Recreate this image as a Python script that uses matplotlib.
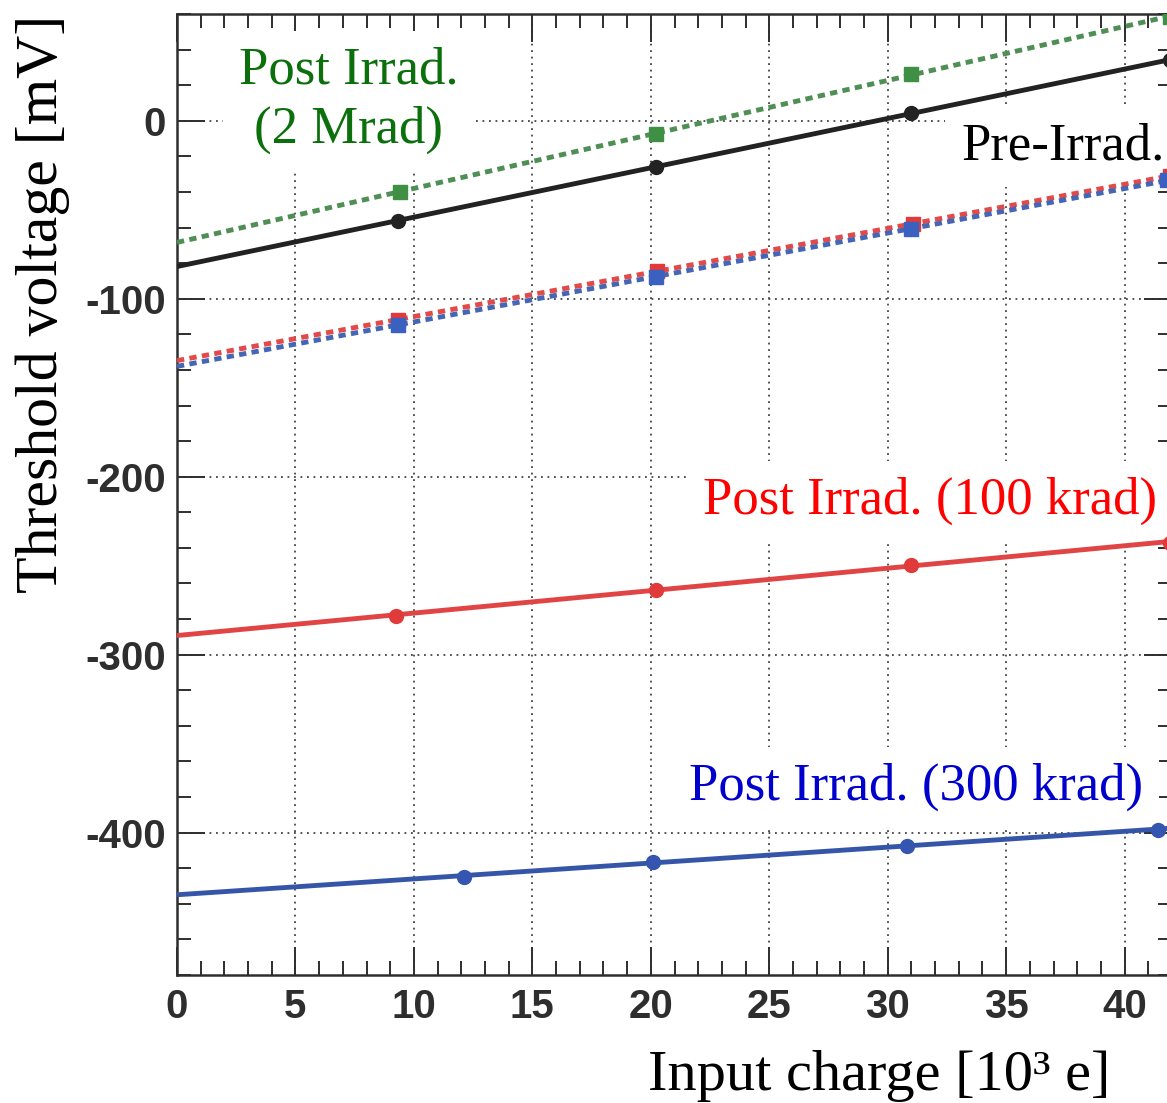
import numpy as np
import matplotlib
matplotlib.use("Agg")
import matplotlib.pyplot as plt
from matplotlib.ticker import MultipleLocator

# Threshold voltage [mV] versus injected charge [10^3 e]
pre_x = [9.34, 20.2, 31.0, 41.9]
pre_y = [-56.2, -25.8, 4.5, 34.0]

mrad2_x = [9.4, 20.2, 31.0, 41.9]
mrad2_y = [-39.9, -7.3, 26.4, 58.4]

k100_dot_x = [9.34, 20.25, 31.08, 41.9]
k100_dot_y = [-111.8, -84.3, -57.9, -31.0]

k300_dot_x = [9.34, 20.2, 31.0, 41.8]
k300_dot_y = [-114.6, -87.6, -60.7, -33.5]

k100_x = [9.26, 20.2, 31.0, 41.9]
k100_y = [-278.0, -263.5, -249.4, -237.0]

k300_x = [12.1, 20.1, 30.8, 41.4]
k300_y = [-424.7, -416.3, -407.3, -398.3]

x_range = (0, 42)
y_range = (-480, 60)

plt.rcParams['font.family'] = ['Liberation Sans', 'DejaVu Sans']
plt.rcParams['font.weight'] = 'bold'
plt.rcParams['axes.unicode_minus'] = False

W, H = 1167, 1103
fig = plt.figure(figsize=(W / 100, H / 100), dpi=100)
ax = fig.add_axes([177 / W, 1 - 975 / H, (1172 - 177) / W, (975 - 14) / H])
ax.set_xlim(*x_range)
ax.set_ylim(*y_range)

ax.xaxis.set_major_locator(MultipleLocator(5))
ax.xaxis.set_minor_locator(MultipleLocator(1))
ax.yaxis.set_major_locator(MultipleLocator(100))
ax.yaxis.set_minor_locator(MultipleLocator(20))

frame = '#2e2e2e'
ax.tick_params(which='both', direction='in', top=True, right=True,
               color=frame, width=1.4, labelcolor=frame, labelsize=29)
ax.tick_params(which='major', length=20)
ax.tick_params(which='minor', length=10)
ax.tick_params(axis='x', pad=9)
ax.tick_params(axis='y', pad=8)
for s in ax.spines.values():
    s.set_color(frame)
    s.set_linewidth(1.8)

ax.set_axisbelow(True)
ax.grid(which='major', color='#444444', linewidth=1.3, linestyle=(0, (1, 2.6)))

dash = (0, (1.5, 1.1))


def fit_line(xs, ys):
    k, b = np.polyfit(xs, ys, 1)
    xx = np.array(x_range, dtype=float)
    return xx, k * xx + b


series = [
    # x, y, line colour, marker colour, line style, marker
    (k100_dot_x, k100_dot_y, '#e24a4a', '#e03a3a', dash, 's'),
    (k300_dot_x, k300_dot_y, '#4466b5', '#3a60c0', dash, 's'),
    (mrad2_x, mrad2_y, '#4f8f55', '#3f8f45', dash, 's'),
    (pre_x, pre_y, '#222222', '#222222', '-', 'o'),
    (k100_x, k100_y, '#e04444', '#e03a3a', '-', 'o'),
    (k300_x, k300_y, '#3556a8', '#3556b0', '-', 'o'),
]
for i, (xs, ys, lc, mc, ls, mk) in enumerate(series):
    fx, fy = fit_line(xs, ys)
    ax.plot(fx, fy, color=lc, linestyle=ls, linewidth=3.5,
            dash_capstyle='butt', zorder=4 + i)
    ax.plot(xs, ys, linestyle='none', marker=mk, markersize=10.5 if mk == 's' else 10,
            color=mc, markeredgecolor=mc, zorder=4 + i)

serif = ['Liberation Serif', 'DejaVu Serif']
box = dict(facecolor='white', edgecolor='none', boxstyle='square,pad=0.3')
ax.text(7.25, 11.5, 'Post Irrad.\n(2 Mrad)', color='#0b700b', fontsize=38,
        family=serif, fontweight='normal', ha='center', va='center',
        multialignment='center', linespacing=1.32, bbox=box, zorder=3)
ax.text(33.1, -21.9, 'Pre-Irrad.', color='black', fontsize=38, family=serif,
        fontweight='normal', ha='left', va='baseline', bbox=box, zorder=3)
ax.text(22.2, -221.0, 'Post Irrad. (100 krad)', color='#ff0000', fontsize=38,
        family=serif, fontweight='normal', ha='left', va='baseline', bbox=box, zorder=3)
ax.text(21.6, -381.5, 'Post Irrad. (300 krad)', color='#0000cc', fontsize=38,
        family=serif, fontweight='normal', ha='left', va='baseline', bbox=box, zorder=3)

fig.text(43 / W, 1 - 15 / H, 'Threshold voltage [mV]', rotation=90, ha='center',
         va='top', fontsize=43, family=serif, fontweight='normal', color='black')
fig.text(1110 / W, 1 - 1090 / H, 'Input charge [10³ e]', ha='right', va='baseline',
         fontsize=42, family=serif, fontweight='normal', color='black')

fig.savefig('out.png', dpi=100)
